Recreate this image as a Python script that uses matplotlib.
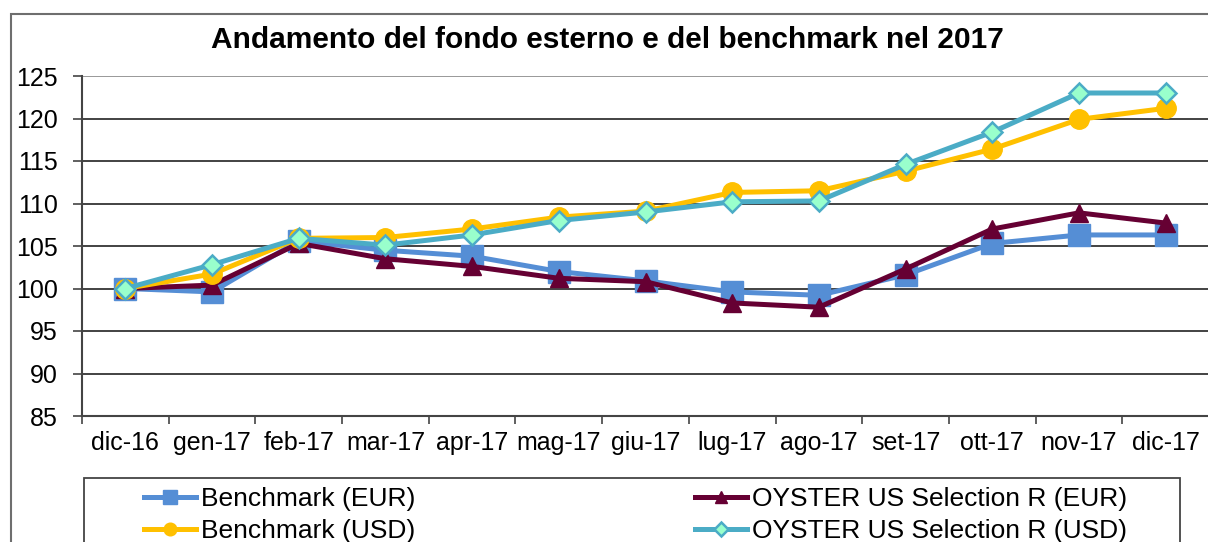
import matplotlib.pyplot as plt
from matplotlib.patches import Rectangle

plt.rcParams['font.family'] = ['Liberation Sans', 'DejaVu Sans']

mesi = ["dic-16", "gen-17", "feb-17", "mar-17", "apr-17", "mag-17", "giu-17",
        "lug-17", "ago-17", "set-17", "ott-17", "nov-17", "dic-17"]

bench_eur = [100.0, 99.6, 105.6, 104.5, 103.8, 102.0, 100.9, 99.6, 99.2, 101.6, 105.3, 106.3, 106.3]
oyster_eur = [100.0, 100.4, 105.3, 103.5, 102.6, 101.2, 100.8, 98.3, 97.8, 102.3, 107.0, 108.9, 107.7]
bench_usd = [100.0, 101.7, 105.9, 106.0, 107.0, 108.4, 109.1, 111.3, 111.5, 113.8, 116.4, 119.9, 121.2]
oyster_usd = [100.0, 102.8, 105.9, 105.1, 106.3, 108.0, 109.0, 110.2, 110.3, 114.6, 118.4, 123.0, 123.0]

W, H = 1208, 542
fig = plt.figure(figsize=(W / 100, H / 100), dpi=100)

# cornice esterna del grafico
fig.patches.append(Rectangle((11 / W, -0.1), 1.1, 1 - 14 / H + 0.1, transform=fig.transFigure,
                             fill=False, edgecolor='#6e6e6e', linewidth=1.5, clip_on=False))

ax = fig.add_axes([82 / W, 1 - 416 / H, 1127 / W, 340 / H])
x = list(range(len(mesi)))

lw = 3.6
l1, = ax.plot(x, bench_eur, color='#558ED5', lw=lw, marker='s', ms=15.5, zorder=3)
l2, = ax.plot(x, oyster_eur, color='#660033', lw=lw, marker='^', ms=13, zorder=4)
l3, = ax.plot(x, bench_usd, color='#FFC000', lw=lw, marker='o', ms=14, zorder=5)
l4, = ax.plot(x, oyster_usd, color='#4BACC6', lw=lw, marker='D', ms=10.5,
              mfc='#99FFCC', mec='#4BACC6', mew=1.8, zorder=6)

ax.set_xlim(-0.5, len(mesi) - 0.5)
ax.set_ylim(85, 125)
ax.set_yticks(range(85, 126, 5))
ax.set_xticks(x)
ax.set_xticklabels(mesi)
ax.set_xticks([i - 0.5 for i in range(len(mesi) + 1)], minor=True)
ax.tick_params(axis='x', which='major', length=0, pad=11, labelsize=18)
ax.tick_params(axis='x', which='minor', length=6, width=1.2, color='#444444', direction='out')
ax.tick_params(axis='y', length=6.5, width=1.2, color='#444444', labelsize=18, pad=11)

ax.grid(axis='y', color='#222222', lw=1.2, zorder=1)
ax.get_ygridlines()[-1].set_color('#888888')
for s in ['top', 'right']:
    ax.spines[s].set_visible(False)
ax.spines['left'].set_color('#444444')
ax.spines['left'].set_linewidth(1.5)
ax.spines['bottom'].set_color('#444444')
ax.spines['bottom'].set_linewidth(1.5)

fig.text(607 / W, 1 - 40 / H, "Andamento del fondo esterno e del benchmark nel 2017",
         ha='center', va='center', fontsize=21.5, fontweight='bold')

# riquadro della legenda
fig.patches.append(Rectangle((84 / W, -0.1), 1096 / W, 0.1 + 1 - 478 / H, transform=fig.transFigure,
                             fill=False, edgecolor='#444444', linewidth=1.3, clip_on=False))
fig.legend([l1, l3, l2, l4],
           ["Benchmark (EUR)", "Benchmark (USD)", "OYSTER US Selection R (EUR)", "OYSTER US Selection R (USD)"],
           ncol=2, loc='upper left', bbox_to_anchor=(126 / W, 1 - 469 / H), frameon=False,
           fontsize=19, handlelength=1.95, handletextpad=0.2, columnspacing=10.6,
           labelspacing=0.3, borderpad=0.2, markerscale=0.65)

fig.savefig("out.png", dpi=100)
